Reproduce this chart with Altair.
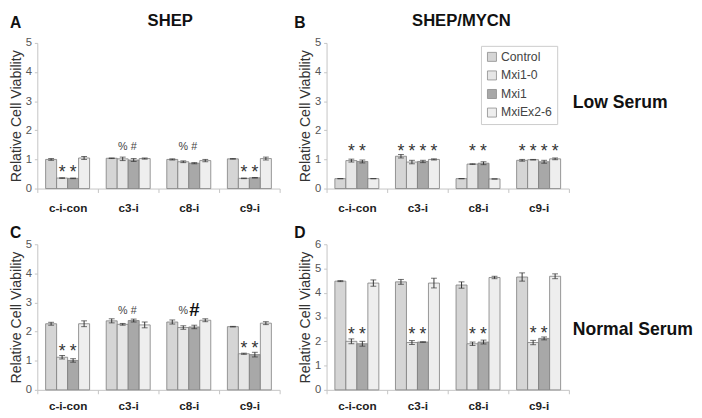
import altair as alt
import pandas as pd

FONT = "Liberation Sans"

groups = ["c-i-con", "c3-i", "c8-i", "c9-i"]
series = ["Control", "Mxi1-0", "Mxi1", "MxiEx2-6"]
series_colors = ["#d5d5d5", "#e6e6e6", "#a8a8a8", "#eeeeee"]

# ---- Panel A : SHEP, low serum (rows = groups, cols = series)
a_values = [[1.00, 0.36, 0.35, 1.05], [1.04, 1.02, 0.98, 1.03],
            [1.00, 0.92, 0.87, 0.96], [1.02, 0.35, 0.37, 1.03]]
a_errors = [[0.03, 0.01, 0.01, 0.05], [0.01, 0.06, 0.05, 0.02],
            [0.02, 0.03, 0.02, 0.04], [0.01, 0.01, 0.01, 0.05]]
a_ann_group = ["c-i-con", "c-i-con", "c3-i", "c3-i", "c8-i", "c8-i", "c9-i", "c9-i"]
a_ann_series = ["Mxi1-0", "Mxi1", "Mxi1-0", "Mxi1", "Mxi1-0", "Mxi1", "Mxi1-0", "Mxi1"]
a_ann_text = ["*", "*", "%", "#", "%", "#", "*", "*"]
a_ann_kind = ["star", "star", "sym", "sym", "sym", "sym", "star", "star"]
a_ann_y = [0.69, 0.69, 1.42, 1.42, 1.42, 1.42, 0.69, 0.69]

# ---- Panel B : SHEP/MYCN, low serum
b_values = [[0.34, 0.96, 0.93, 0.34], [1.11, 0.91, 0.93, 1.00],
            [0.34, 0.84, 0.87, 0.33], [0.97, 0.99, 0.92, 1.02]]
b_errors = [[0.00, 0.05, 0.05, 0.00], [0.06, 0.06, 0.04, 0.02],
            [0.00, 0.01, 0.05, 0.00], [0.03, 0.01, 0.05, 0.03]]
b_ann_group = ["c-i-con", "c-i-con", "c3-i", "c3-i", "c3-i", "c3-i",
               "c8-i", "c8-i", "c9-i", "c9-i", "c9-i", "c9-i"]
b_ann_series = ["Mxi1-0", "Mxi1", "Control", "Mxi1-0", "Mxi1", "MxiEx2-6",
                "Mxi1-0", "Mxi1", "Control", "Mxi1-0", "Mxi1", "MxiEx2-6"]
b_ann_text = ["*"] * 12
b_ann_kind = ["star"] * 12
b_ann_y = [1.42] * 12

# ---- Panel C : SHEP, normal serum
c_values = [[2.27, 1.12, 1.01, 2.27], [2.37, 2.25, 2.38, 2.23],
            [2.33, 2.14, 2.16, 2.39], [2.17, 1.24, 1.21, 2.29]]
c_errors = [[0.05, 0.06, 0.06, 0.10], [0.07, 0.03, 0.05, 0.10],
            [0.07, 0.06, 0.06, 0.05], [0.01, 0.02, 0.08, 0.05]]
c_ann_group = ["c-i-con", "c-i-con", "c3-i", "c3-i", "c8-i", "c8-i", "c9-i", "c9-i"]
c_ann_series = ["Mxi1-0", "Mxi1", "Mxi1-0", "Mxi1", "Mxi1-0", "Mxi1", "Mxi1-0", "Mxi1"]
c_ann_text = ["*", "*", "%", "#", "%", "#", "*", "*"]
c_ann_kind = ["star", "star", "sym", "sym", "sym", "big", "star", "star"]
c_ann_y = [1.45, 1.45, 2.72, 2.72, 2.72, 2.75, 1.58, 1.58]

# ---- Panel D : SHEP/MYCN, normal serum
d_values = [[4.48, 2.00, 1.90, 4.40], [4.45, 1.95, 1.97, 4.40],
            [4.32, 1.90, 1.97, 4.63], [4.65, 1.95, 2.12, 4.68]]
d_errors = [[0.02, 0.10, 0.10, 0.13], [0.10, 0.08, 0.01, 0.20],
            [0.13, 0.07, 0.08, 0.05], [0.17, 0.09, 0.06, 0.10]]
d_ann_group = ["c-i-con", "c-i-con", "c3-i", "c3-i", "c8-i", "c8-i", "c9-i", "c9-i"]
d_ann_series = ["Mxi1-0", "Mxi1"] * 4
d_ann_text = ["*"] * 8
d_ann_kind = ["star"] * 8
d_ann_y = [2.46, 2.46, 2.46, 2.46, 2.46, 2.46, 2.5, 2.5]

panel_letters = ["A", "B", "C", "D"]
column_titles = ["SHEP", "SHEP/MYCN"]
row_labels = ["Low Serum", "Normal Serum"]
y_title = "Relative Cell Viability"

W, H = 248, 149


def panel(values, errors, ymax, ann, letter, letter_xy, title=None, title_xy=None,
          side=None, side_xy=None, show_legend=False, xlab_pad=6):
    rows = []
    for gi, g in enumerate(groups):
        for si, s in enumerate(series):
            v = values[gi][si]
            e = errors[gi][si]
            rows.append({"group": g, "series": s, "value": v, "lo": v - e, "hi": v + e})
    df = pd.DataFrame(rows)
    ann_df = pd.DataFrame({"group": ann[0], "series": ann[1], "txt": ann[2],
                           "kind": ann[3], "ypos": ann[4]})

    x = alt.X("group:N", sort=groups, title=None,
              scale=alt.Scale(paddingInner=0, paddingOuter=0),
              axis=alt.Axis(labelAngle=0, labelFontWeight="bold", labelFontSize=12,
                            labelColor="#222222", tickBand="extent", tickSize=4,
                            labelPadding=xlab_pad, domainColor="#c4c4c4", tickColor="#c4c4c4"))
    xo = alt.XOffset("series:N", sort=series,
                     scale=alt.Scale(paddingInner=0, paddingOuter=0.755))
    ysc = alt.Scale(domain=[0, ymax], nice=False, zero=True)
    yax = alt.Axis(values=list(range(ymax + 1)), labelFontSize=11.5, labelColor="#555555",
                   tickSize=3, labelPadding=3, domainColor="#c4c4c4", tickColor="#c4c4c4",
                   titleFontSize=14.5, titleFontWeight="normal", titleColor="#333333",
                   titlePadding=2, grid=False)

    def Y(field):
        return alt.Y(field, scale=ysc, axis=yax, title=y_title)

    if show_legend:
        leg = alt.Legend(orient="none", legendX=158, legendY=3, title=None,
                         symbolType="square", symbolSize=85, symbolStrokeColor="#8a8a8a",
                         symbolStrokeWidth=0.8, labelFont=FONT, labelFontSize=12.5,
                         labelColor="#444444", strokeColor="#cccccc", fillColor="white",
                         padding=5, rowPadding=6, labelOffset=3)
    else:
        leg = None

    bars = alt.Chart(df).mark_bar(stroke="#7c7c7c", strokeWidth=0.8).encode(
        x=x, xOffset=xo, y=Y("value:Q"),
        fill=alt.Fill("series:N", sort=series,
                      scale=alt.Scale(domain=series, range=series_colors), legend=leg))
    err = alt.Chart(df).mark_rule(color="#333333", strokeWidth=1).encode(
        x=x, xOffset=xo, y=Y("lo:Q"), y2="hi:Q")
    caps = alt.Chart(df).transform_fold(["lo", "hi"], as_=["end", "pos"]).mark_tick(
        orient="horizontal", size=6, thickness=1, color="#333333").encode(
        x=x, xOffset=xo, y=Y("pos:Q"))

    stars = alt.Chart(ann_df).transform_filter(alt.datum.kind == "star").mark_text(
        font=FONT, fontSize=18, color="#333333", baseline="middle", dy=5).encode(
        x=x, xOffset=xo, y=Y("ypos:Q"), text="txt:N")
    syms = alt.Chart(ann_df).transform_filter(alt.datum.kind == "sym").mark_text(
        font=FONT, fontSize=11, color="#444444", baseline="middle").encode(
        x=x, xOffset=xo, y=Y("ypos:Q"), text="txt:N")
    big = alt.Chart(ann_df).transform_filter(alt.datum.kind == "big").mark_text(
        font=FONT, fontSize=19, fontWeight="bold", color="#111111", baseline="middle").encode(
        x=x, xOffset=xo, y=Y("ypos:Q"), text="txt:N")

    layers = [bars, err, caps, stars, syms, big]

    layers.append(alt.Chart(pd.DataFrame({"t": [letter]})).mark_text(
        font=FONT, fontSize=16, fontWeight="bold", color="#111111", align="left",
        baseline="middle").encode(text="t:N", x=alt.value(letter_xy[0]), y=alt.value(letter_xy[1])))
    if title is not None:
        layers.append(alt.Chart(pd.DataFrame({"t": [title]})).mark_text(
            font=FONT, fontSize=17, fontWeight="bold", color="#111111", align="center",
            baseline="middle").encode(text="t:N", x=alt.value(title_xy[0]), y=alt.value(title_xy[1])))
    if side is not None:
        layers.append(alt.Chart(pd.DataFrame({"t": [side]})).mark_text(
            font=FONT, fontSize=18, fontWeight="bold", color="#111111", align="left",
            baseline="middle").encode(text="t:N", x=alt.value(side_xy[0]), y=alt.value(side_xy[1])))

    return alt.layer(*layers).properties(width=W, height=H)


pA = panel(a_values, a_errors, 5,
           (a_ann_group, a_ann_series, a_ann_text, a_ann_kind, a_ann_y),
           panel_letters[0], (-28, -20), column_titles[0], (136, -22), xlab_pad=10)
pB = panel(b_values, b_errors, 5,
           (b_ann_group, b_ann_series, b_ann_text, b_ann_kind, b_ann_y),
           panel_letters[1], (-33, -20), column_titles[1], (138, -22),
           row_labels[0], (252, 62), show_legend=True, xlab_pad=10)
pC = panel(c_values, c_errors, 5,
           (c_ann_group, c_ann_series, c_ann_text, c_ann_kind, c_ann_y),
           panel_letters[2], (-28, -11), xlab_pad=7)
pD = panel(d_values, d_errors, 6,
           (d_ann_group, d_ann_series, d_ann_text, d_ann_kind, d_ann_y),
           panel_letters[3], (-33, -11), None, None,
           row_labels[1], (252, 88), xlab_pad=7)

chart = alt.concat(pA, pB, pC, pD, columns=2, spacing={"row": 57, "column": 48},
                   bounds="flush").resolve_scale(fill="independent").properties(
    padding=0).configure_view(stroke=None).configure_axis(labelFont=FONT, titleFont=FONT)

chart.save("out.html", embed_options={"renderer": "svg", "actions": False})
